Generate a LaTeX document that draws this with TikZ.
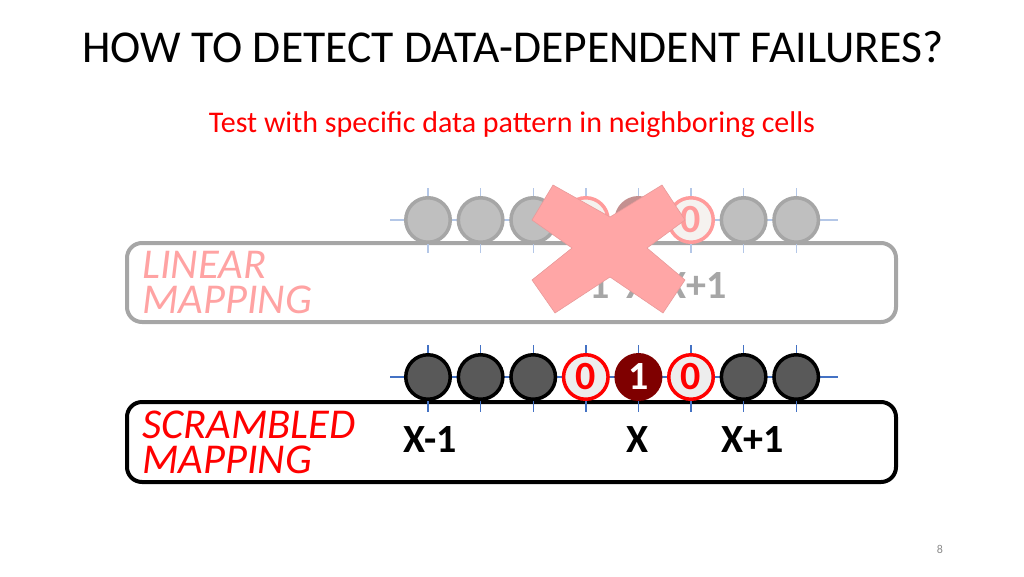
\documentclass[tikz,border=0pt]{standalone}
\usepackage{fontspec}
\setmainfont{Carlito}
\definecolor{tickc}{HTML}{4472C4}
\definecolor{ticklight}{HTML}{B4C7E7}
\definecolor{darkcell}{HTML}{595959}
\definecolor{maroonc}{HTML}{7F0000}
\definecolor{zerofill}{HTML}{EDEDED}
\definecolor{fadegrey}{HTML}{BFBFBF}
\definecolor{fadeborder}{HTML}{A6A6A6}
\definecolor{fadered}{HTML}{FF9B9B}
\definecolor{fadezero}{HTML}{F5F2EF}
\definecolor{fademaroon}{HTML}{C49090}
\definecolor{crosspink}{HTML}{FFA6A6}
\definecolor{crossedge}{HTML}{E89A9A}
\definecolor{linpink}{HTML}{FFA3A3}
\definecolor{redtext}{HTML}{FF0000}
\definecolor{pagegrey}{HTML}{8C8C8C}
\begin{document}
\begin{tikzpicture}[x=1pt,y=-1pt,
  cell/.style={circle, minimum size=44.5pt, inner sep=0pt, line width=3.5pt,
    font=\fontsize{40}{40}\selectfont\bfseries},
  darkc/.style={cell, draw=black, fill=darkcell},
  zeroc/.style={cell, draw=redtext, fill=zerofill, text=redtext},
  onec/.style={cell, fill=maroonc, text=white, minimum size=48pt},
  fadec/.style={cell, draw=fadeborder, fill=fadegrey},
  fadezeroc/.style={cell, draw=fadered, fill=fadezero, text=fadered},
  fadeonec/.style={cell, fill=fademaroon, text=white, minimum size=48pt},
  mapbox/.style={rounded corners=15pt, line width=4pt},
  maptext/.style={anchor=north west, inner sep=0pt, align=left,
    font=\fontsize{42.5}{35}\selectfont\itshape},
  addr/.style={anchor=base, inner sep=0pt, font=\fontsize{40}{40}\selectfont\bfseries},
  tickline/.style={line width=1.4pt}
]
\useasboundingbox (0,0) rectangle (1024,576);

% title and subtitle
\node[anchor=base, inner sep=0pt, font=\fontsize{45.6}{46}\selectfont] (title) at (513,62) {HOW TO DETECT DATA-DEPENDENT FAILURES?};
\node[anchor=base, inner sep=0pt, text=redtext, font=\fontsize{30}{30}\selectfont] (subtitle) at (512,132) {Test with specific data pattern in neighboring cells};

% ---------- linear mapping (faded) ----------
\draw[mapbox, draw=fadeborder] (127,243) rectangle (896,322);
\foreach \i in {1,...,8} {
  \coordinate (tt\i) at ({428+52.6*(\i-1)},188);
  \coordinate (tb\i) at ({428+52.6*(\i-1)},253);
  \draw[tickline, ticklight] (tt\i) -- (tb\i);
}
\coordinate (tl) at (390,220);
\coordinate (tr) at (838,220);
\draw[tickline, ticklight] (tl) -- (tr);
\node[fadec] (t1) at (428,220) {};
\node[fadec] (t2) at (480.6,220) {};
\node[fadec] (t3) at (533.2,220) {};
\node[fadezeroc] (t4) at (585.8,220) {0};
\node[fadeonec] (t5) at (638.4,220) {1};
\node[fadezeroc] (t6) at (691,220) {0};
\node[fadec] (t7) at (743.6,220) {};
\node[fadec] (t8) at (796.2,220) {};
\node[maptext, text=linpink] (lin) at (142,251) {LINEAR\\MAPPING};
\node[addr, text=fadeborder] (la) at (583,298) {X-1};
\node[addr, text=fadeborder] (lb) at (638,298) {X};
\node[addr, text=fadeborder] (lc) at (696,298) {X+1};

% cross
\fill[crosspink, draw=crossedge, line width=0.6pt]
  (553,185) -- (610,217) -- (662,185) -- (685,220) -- (647,248) -- (685,280)
  -- (663,313) -- (610,277) -- (555,313) -- (532,280) -- (572,248) -- (532,220) -- cycle;

% ---------- scrambled mapping ----------
\draw[mapbox, draw=black] (127,402) rectangle (896,482);
\foreach \i in {1,...,8} {
  \coordinate (bt\i) at ({428+52.6*(\i-1)},345);
  \coordinate (bb\i) at ({428+52.6*(\i-1)},412);
  \draw[tickline, tickc] (bt\i) -- (bb\i);
}
\coordinate (bl) at (390,377);
\coordinate (br) at (838,377);
\draw[tickline, tickc] (bl) -- (br);
\node[darkc] (c1) at (428,377) {};
\node[darkc] (c2) at (480.6,377) {};
\node[darkc] (c3) at (533.2,377) {};
\node[zeroc] (c4) at (585.8,377) {0};
\node[onec] (c5) at (638.4,377) {1};
\node[zeroc] (c6) at (691,377) {0};
\node[darkc] (c7) at (743.6,377) {};
\node[darkc] (c8) at (796.2,377) {};
\node[maptext, text=redtext] (scr) at (142,411) {SCRAMBLED\\MAPPING};
\node[addr] (sa) at (430,452) {X-1};
\node[addr] (sb) at (638,452) {X};
\node[addr] (sc) at (753,452) {X+1};

% page number
\node[anchor=base, inner sep=0pt, text=pagegrey, font=\fontsize{12}{12}\selectfont] (page) at (940,553) {8};
\end{tikzpicture}
\end{document}
